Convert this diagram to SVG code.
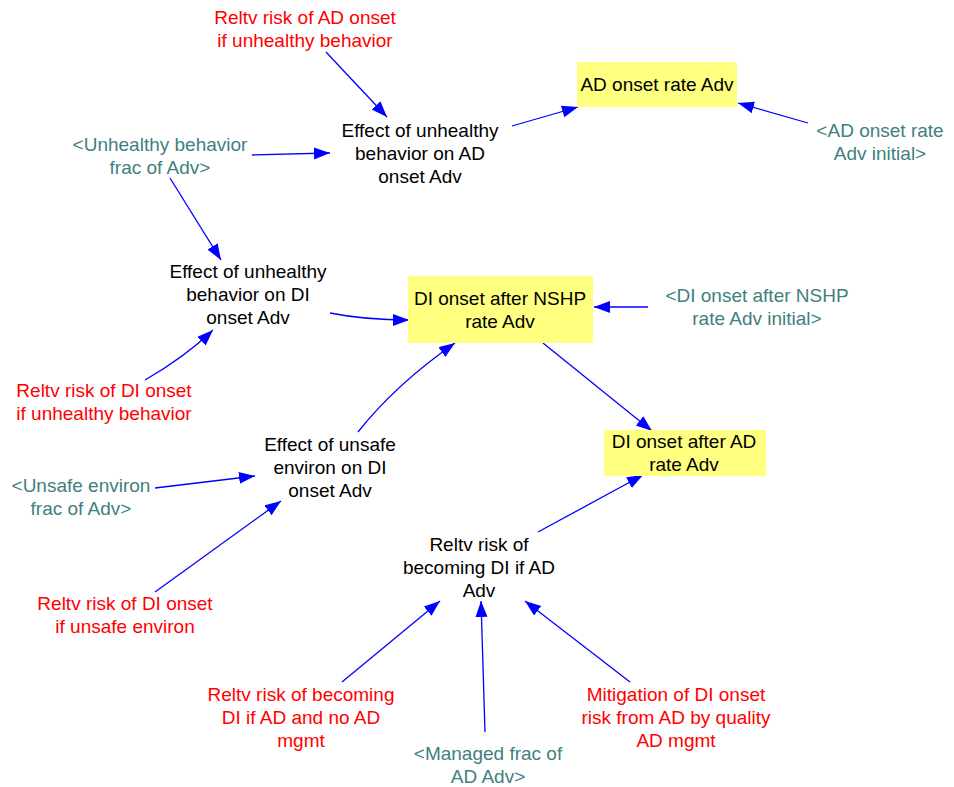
<svg xmlns="http://www.w3.org/2000/svg" width="954" height="787" viewBox="0 0 954 787">
<defs>
<marker id="ah" markerUnits="userSpaceOnUse" markerWidth="18" markerHeight="14" refX="16" refY="6" orient="auto">
<path d="M0,0 L16,6 L0,12 Z" fill="#0000ff"/>
</marker>
<style>
text{font-family:"Liberation Sans",Arial,sans-serif;font-size:19px;text-anchor:middle}
.b{fill:#000}
.r{fill:#ff0000}
.s{fill:#408080}
.box{fill:#ffff80;stroke:none}
.c{fill:none;stroke:#0000ff;stroke-width:1.3;marker-end:url(#ah)}
</style>
</defs>
<rect width="954" height="787" fill="#fff"/>
<g id="connectors">
<path class="c" d="M326,52 L387,117"/>
<path class="c" d="M252,155 L330,153"/>
<path class="c" d="M512,126 L578,107"/>
<path class="c" d="M808,123 L738,103"/>
<path class="c" d="M170,178 L221,260"/>
<path class="c" d="M330,313 Q365,320 409,320"/>
<path class="c" d="M145,380 Q185,357 213,330"/>
<path class="c" d="M648,307 L594,307"/>
<path class="c" d="M543,343 L652,431"/>
<path class="c" d="M358,432 Q395,385 455,343"/>
<path class="c" d="M155,488 L255,476"/>
<path class="c" d="M155,592 L281,501"/>
<path class="c" d="M538,532 L643,475"/>
<path class="c" d="M342,682 L440,601"/>
<path class="c" d="M485,732 L481,601"/>
<path class="c" d="M630,682 L525,601"/>
</g>
<g id="reltv_ad_unhealthy"><text class="r" x="305" y="24">Reltv risk of AD onset</text><text class="r" x="305" y="47">if unhealthy behavior</text></g>
<g id="ad_onset_rate"><rect class="box" x="577" y="62" width="160" height="45"/><text class="b" x="657" y="91">AD onset rate Adv</text></g>
<g id="effect_unhealthy_ad"><text class="b" x="420" y="137">Effect of unhealthy</text><text class="b" x="420" y="160">behavior on AD</text><text class="b" x="420" y="183">onset Adv</text></g>
<g id="unhealthy_frac"><text class="s" x="160" y="151">&lt;Unhealthy behavior</text><text class="s" x="160" y="174">frac of Adv&gt;</text></g>
<g id="ad_onset_initial"><text class="s" x="880" y="137">&lt;AD onset rate</text><text class="s" x="880" y="160">Adv initial&gt;</text></g>
<g id="effect_unhealthy_di"><text class="b" x="248" y="278">Effect of unhealthy</text><text class="b" x="248" y="301">behavior on DI</text><text class="b" x="248" y="324">onset Adv</text></g>
<g id="di_nshp_rate"><rect class="box" x="408" y="276" width="185" height="67"/><text class="b" x="500" y="305">DI onset after NSHP</text><text class="b" x="500" y="328">rate Adv</text></g>
<g id="di_nshp_initial"><text class="s" x="757" y="302">&lt;DI onset after NSHP</text><text class="s" x="757" y="325">rate Adv initial&gt;</text></g>
<g id="reltv_di_unhealthy"><text class="r" x="104" y="397">Reltv risk of DI onset</text><text class="r" x="104" y="420">if unhealthy behavior</text></g>
<g id="effect_unsafe"><text class="b" x="330" y="451">Effect of unsafe</text><text class="b" x="330" y="474">environ on DI</text><text class="b" x="330" y="497">onset Adv</text></g>
<g id="di_ad_rate"><rect class="box" x="604" y="430" width="162" height="46"/><text class="b" x="684" y="448">DI onset after AD</text><text class="b" x="684" y="471">rate Adv</text></g>
<g id="unsafe_frac"><text class="s" x="81" y="492">&lt;Unsafe environ</text><text class="s" x="81" y="515">frac of Adv&gt;</text></g>
<g id="reltv_becoming"><text class="b" x="479" y="551">Reltv risk of</text><text class="b" x="479" y="574">becoming DI if AD</text><text class="b" x="479" y="597">Adv</text></g>
<g id="reltv_di_unsafe"><text class="r" x="125" y="610">Reltv risk of DI onset</text><text class="r" x="125" y="633">if unsafe environ</text></g>
<g id="reltv_no_mgmt"><text class="r" x="301" y="701">Reltv risk of becoming</text><text class="r" x="301" y="724">DI if AD and no AD</text><text class="r" x="301" y="747">mgmt</text></g>
<g id="mitigation"><text class="r" x="676" y="701">Mitigation of DI onset</text><text class="r" x="676" y="724">risk from AD by quality</text><text class="r" x="676" y="747">AD mgmt</text></g>
<g id="managed_frac"><text class="s" x="488" y="760">&lt;Managed frac of</text><text class="s" x="488" y="783">AD Adv&gt;</text></g>
</svg>
